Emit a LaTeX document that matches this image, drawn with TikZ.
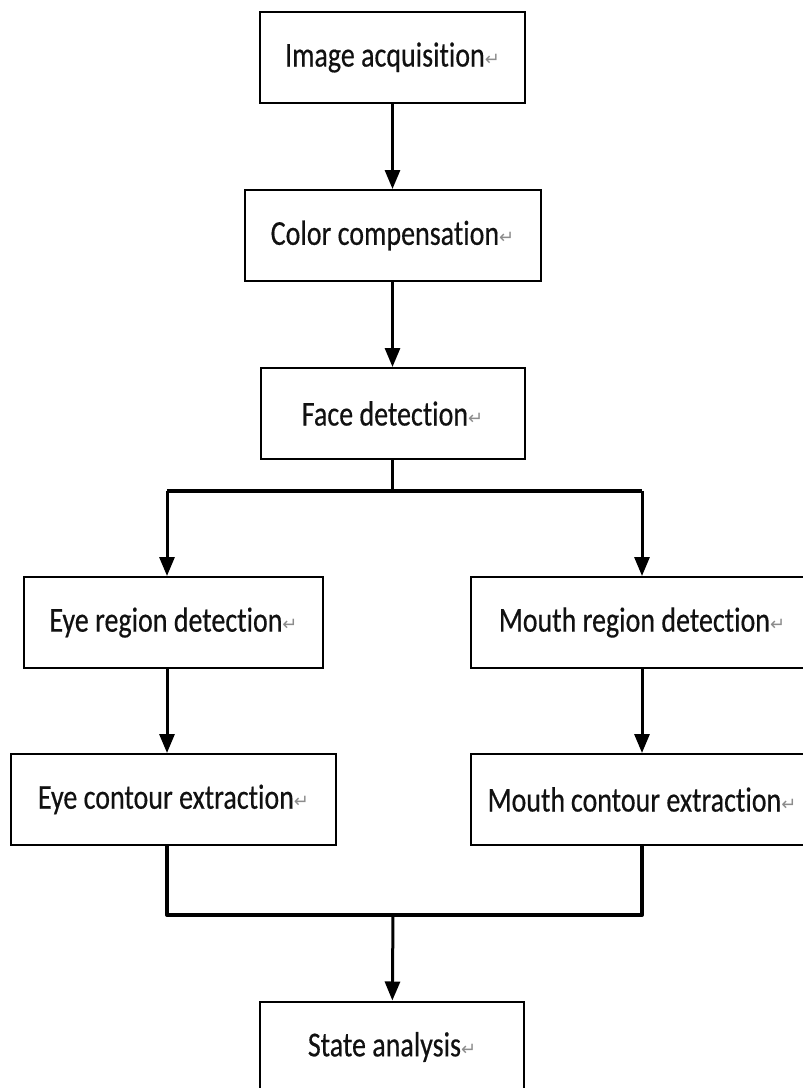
\documentclass[tikz,border=0pt]{standalone}
\usepackage{xcolor}
\usepackage{fontspec}
\usepackage{tikz}
\usetikzlibrary{
  arrows.meta,
  positioning,
  calc
}
\setmainfont{Carlito}[FakeStretch=0.80, Ligatures={NoCommon}, FakeBold=0.4]
\newfontfamily\retfont{DejaVu Sans}
\definecolor{fcLine}{HTML}{000000}
\definecolor{fcText}{HTML}{111111}
\definecolor{fcMark}{HTML}{8C8C8C}
\newcommand{\ret}{\raisebox{1pt}{\retfont\color{fcMark}\fontsize{18}{18}\selectfont ↵}}
\tikzset{
  stepbox/.style={
    draw=fcLine, line width=2pt, minimum height=91pt, inner sep=0pt,
    text=fcText, font=\fontsize{35}{40}\selectfont, align=center
  },
  flow/.style={-{Triangle[length=19pt,width=15pt]}, line width=3pt, fcLine},
  trunk/.style={line width=3pt, fcLine},
  bar/.style={line width=4pt, fcLine, line join=round}
}

\begin{document}
\begin{tikzpicture}[x=1pt, y=-1pt]
  \useasboundingbox (0,0) rectangle (803,1088);
  \clip (0,0) rectangle (803,1088);
  % main column
  \node[stepbox, minimum width=265pt] (acq) at (392.5,57.5) {Image acquisition\ret};
  \node[stepbox, minimum width=296pt, below=85pt of acq] (comp) {Color compensation\ret};
  \node[stepbox, minimum width=264pt, below=85pt of comp] (face) {Face detection\ret};
  % two branches
  \node[stepbox, minimum width=299pt] (eyereg) at (173.5,622.5) {Eye region detection\ret};
  \node[stepbox, minimum width=342pt] (mouthreg) at (642,622.5) {Mouth region detection\ret};
  \node[stepbox, minimum width=325pt, below=84pt of eyereg] (eyecon) {Eye contour extraction\ret};
  \node[stepbox, minimum width=342pt, below=84pt of mouthreg] (mouthcon) {Mouth\,contour extraction\ret};
  \node[stepbox, minimum width=264pt] (state) at (392,1047) {State analysis\ret};
  \coordinate (splitL) at (167,491);
  \coordinate (splitR) at (642,491);
  \coordinate (join) at (393,915);
  \draw[flow] (acq) -- (comp);
  \draw[flow] (comp) -- (face);
  \draw[trunk] (face.south) -- (face.south |- splitL);
  \draw[bar] (splitL) -- (splitR);
  \draw[flow] (splitL) -- (splitL |- eyereg.north);
  \draw[flow] (splitR) -- (mouthreg.north);
  \draw[flow] (eyereg.south -| splitL) -- (eyecon.north -| splitL);
  \draw[flow] (mouthreg) -- (mouthcon);
  \draw[bar] (eyecon.south -| splitL) |- (join) -| (mouthcon.south);
  \draw[flow] (join) -- (state);
\end{tikzpicture}
\end{document}
